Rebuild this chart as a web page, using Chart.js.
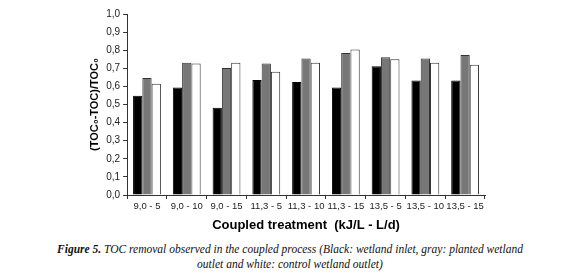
<!DOCTYPE html>
<html>
<head>
<meta charset="utf-8">
<script src="https://cdn.jsdelivr.net/npm/chart.js@4.4.0/dist/chart.umd.min.js"></script>
<style>
    body { margin: 0; background: #fff; width: 580px; height: 277px; overflow: hidden; }
    #wrap { position: relative; width: 580px; height: 237px; }
    .caption { font-family: "Liberation Serif", "Times New Roman", serif; font-style: italic; font-size: 11.5px; text-align: center; line-height: 15px; color: #111; margin-top: 5px; }
    .caption b { font-weight: bold; }
</style>
</head>
<body>
<div id="wrap"><canvas id="chart"></canvas></div>
<div class="caption"><b>Figure 5.</b> TOC removal observed in the coupled process (Black: wetland inlet, gray: planted wetland<br>outlet and white: control wetland outlet)</div>
<script>
const categories = ['9,0 - 5', '9,0 - 10', '9,0 - 15', '11,3 - 5', '11,3 - 10', '11,3 - 15', '13,5 - 5', '13,5 - 10', '13,5 - 15'];
const inletValues = [0.548, 0.594, 0.482, 0.636, 0.625, 0.594, 0.712, 0.632, 0.632];
const plantedValues = [0.647, 0.731, 0.701, 0.727, 0.754, 0.784, 0.761, 0.754, 0.774];
const controlValues = [0.615, 0.726, 0.731, 0.681, 0.731, 0.804, 0.750, 0.731, 0.720];

const font = { family: 'Arial, "Liberation Sans", sans-serif', size: 10 };

new Chart(document.getElementById('chart'), {
    type: 'bar',
    data: {
        labels: categories,
        datasets: [
            { label: 'Wetland inlet', data: inletValues, backgroundColor: '#000', borderColor: '#000', borderWidth: 1 },
            { label: 'Planted wetland outlet', data: plantedValues, backgroundColor: '#777', borderColor: '#333', borderWidth: 1 },
            { label: 'Control wetland outlet', data: controlValues, backgroundColor: '#fff', borderColor: '#333', borderWidth: 1 }
        ]
    },
    options: {
        responsive: true,
        maintainAspectRatio: false,
        animation: false,
        categoryPercentage: 0.7,
        barPercentage: 1,
        layout: { padding: { left: 84, right: 95, top: 14, bottom: 0 } },
        plugins: { legend: { display: false }, tooltip: { enabled: false } },
        scales: {
            x: {
                grid: { drawOnChartArea: false, drawTicks: true, tickLength: 4, color: '#333' },
                border: { color: '#333' },
                ticks: { color: '#222', font: { family: font.family, size: 9.5 }, padding: 2, maxRotation: 0, autoSkip: false },
                title: { display: true, text: 'Coupled treatment  (kJ/L - L/d)', color: '#000', font: { family: font.family, size: 13, weight: 'bold' }, padding: { top: 3 } }
            },
            y: {
                min: 0,
                max: 1,
                grid: { drawOnChartArea: false, drawTicks: true, tickLength: 4, color: '#333' },
                border: { color: '#333' },
                ticks: { stepSize: 0.1, color: '#222', font: font, padding: 3, callback: v => v.toFixed(1).replace('.', ',') },
                title: { display: true, text: '(TOC\u2080-TOC)/TOC\u2080', color: '#000', font: { family: font.family, size: 11, weight: 'bold' }, padding: { bottom: 2 } }
            }
        }
    }
});
</script>
</body>
</html>
